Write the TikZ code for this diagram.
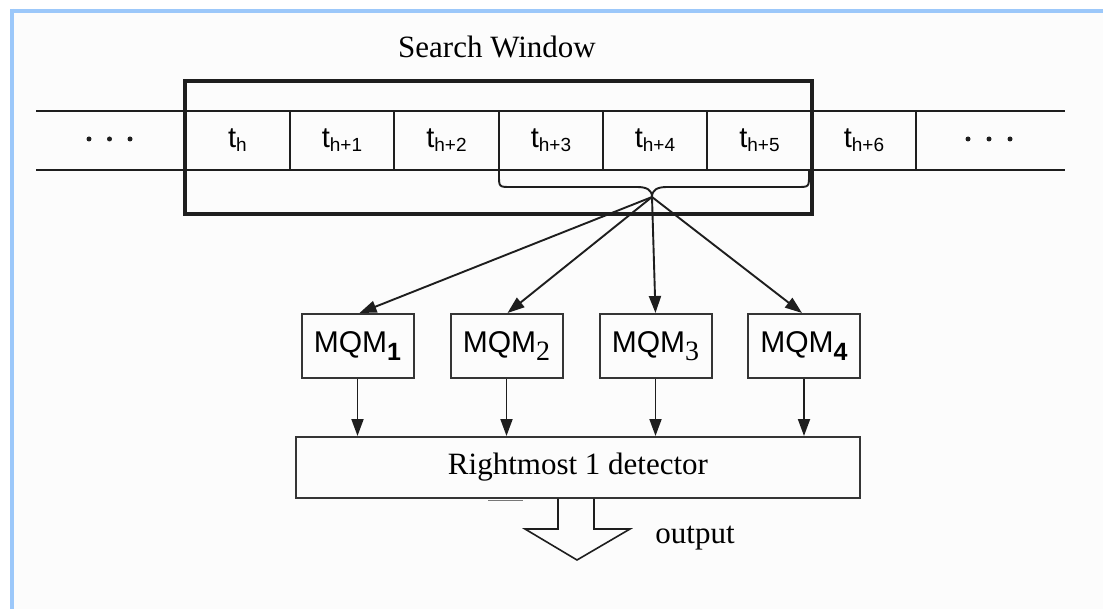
\documentclass[tikz,border=0pt]{standalone}
\usepackage{fontspec}
\setmainfont{Liberation Serif}
\setsansfont{Liberation Sans}
\usetikzlibrary{arrows.meta}
\definecolor{framebl}{HTML}{9CC8FA}
\definecolor{paper}{HTML}{FCFCFC}
\definecolor{ink}{HTML}{1E1E1E}
% tape cell label: t with a sub-index
\newcommand\tcell[1]{{\fontsize{29}{30}\selectfont t}\raisebox{-4pt}{\fontsize{19}{20}\selectfont #1}}
\tikzset{
  ln/.style={draw=ink, line width=1.9pt},
  arr/.style={ln, -{Triangle[length=17pt,width=12pt]}},
  winbox/.style={draw=ink, line width=3.2pt, inner sep=0pt},
  cellt/.style={inner sep=0pt, font=\sffamily},
  dotmark/.style={circle, fill=ink, inner sep=0pt, minimum size=5pt},
  mqmbox/.style={draw=ink!90, line width=2pt, minimum width=112pt, minimum height=64pt,
    inner sep=0pt, font=\sffamily\fontsize{30}{32}\selectfont},
  detbox/.style={draw=ink!90, line width=2pt, minimum width=564pt, minimum height=61pt,
    inner sep=0pt, font=\fontsize{31}{34}\selectfont},
  serif31/.style={inner sep=0pt, font=\fontsize{31}{34}\selectfont},
}
\begin{document}
\begin{tikzpicture}[x=1pt, y=-1pt]
  \useasboundingbox (0,0) rectangle (1103,609);
  % page and its blue frame
  \fill[white] (0,0) rectangle (1103,609);
  \fill[paper] (10,9) rectangle (1103,609);
  \draw[framebl, line width=4pt] (12,11) -- (1103,11);
  \draw[framebl, line width=4pt] (12,9) -- (12,609);

  % title and search window
  \node[serif31] (title) at (497,47) {Search Window};
  \node[winbox, minimum width=627pt, minimum height=133pt] (win) at (498.5,147.5) {};

  % the tape
  \coordinate (tl) at (36,111);  \coordinate (tr) at (1065,111);
  \coordinate (bl) at (36,170);  \coordinate (br) at (1065,170);
  \draw[ln] (tl) -- (tr);
  \draw[ln] (bl) -- (br);
  \foreach \x in {290,394,499,603,707,916}
    \draw[ln] (\x,111) -- (\x,170);

  \node[cellt] (c0) at (237.5,140) {\tcell{h}};
  \node[cellt] (c1) at (342,140) {\tcell{h+1}};
  \node[cellt] (c2) at (446.5,140) {\tcell{h+2}};
  \node[cellt] (c3) at (551,140) {\tcell{h+3}};
  \node[cellt] (c4) at (655,140) {\tcell{h+4}};
  \node[cellt] (c5) at (759.5,140) {\tcell{h+5}};
  \node[cellt] (c6) at (864,140) {\tcell{h+6}};

  \node[dotmark] (dl1) at (89,139) {};
  \node[dotmark] (dl2) at (109.5,139) {};
  \node[dotmark] (dl3) at (130,139) {};
  \node[dotmark] (dr1) at (968,139) {};
  \node[dotmark] (dr2) at (989,139) {};
  \node[dotmark] (dr3) at (1010,139) {};

  % brace under t_{h+3} .. t_{h+5}
  \coordinate (tip) at (652,197);
  \draw[ln] (499,170) -- (499,175) .. controls (499,187) and (499,187) .. (511,187)
    -- (637,187) .. controls (647,187) and (652,190) .. (tip);
  \draw[ln] (tip) .. controls (652,190) and (657,187) .. (667,187)
    -- (797,187) .. controls (809,187) and (809,187) .. (809,175) -- (809,170);

  % matching modules
  \node[mqmbox] (m1) at (357.5,346) {MQM\raisebox{-8pt}{\bfseries\fontsize{25}{26}\selectfont 1}};
  \node[mqmbox] (m2) at (506.5,346) {MQM\raisebox{-8pt}{\rmfamily\fontsize{28}{28}\selectfont 2}};
  \node[mqmbox] (m3) at (655.5,346) {MQM\raisebox{-8pt}{\rmfamily\fontsize{28}{28}\selectfont 3}};
  \node[mqmbox] (m4) at (804,346) {MQM\raisebox{-8pt}{\bfseries\fontsize{25}{26}\selectfont 4}};

  \draw[arr] (tip) -- ([xshift=2pt]m1.north);
  \draw[arr] (tip) -- ([xshift=1pt]m2.north);
  \draw[arr] (tip) -- (m3.north);
  \draw[arr] (tip) -- ([xshift=-2pt]m4.north);

  % detector
  \node[detbox] (det) at (578,467.5) {Rightmost 1 detector};
  \foreach \m in {m1,m2,m3,m4}
    \draw[arr] (\m.south) -- (\m.south |- det.north);
  \draw[draw=ink!60, line width=1.4pt] ([xshift=-90pt,yshift=-1.5pt]det.south) -- ([xshift=-55pt,yshift=-1.5pt]det.south);

  % output arrow
  \draw[ln, line width=1.6pt, line join=miter] (558,498.5) -- (558,529) -- (525,529) -- (577,560)
    -- (630,529) -- (594,529) -- (594,498.5);
  \node[serif31] (out) at (695,538) {output};
\end{tikzpicture}
\end{document}
